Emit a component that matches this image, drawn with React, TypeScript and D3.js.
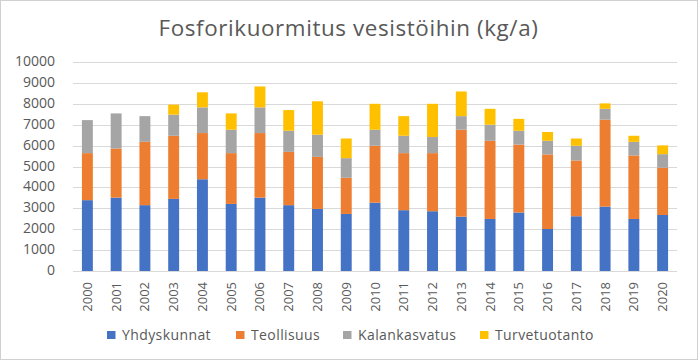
import React, { useEffect, useRef } from 'react';
import * as d3 from 'd3';

const years = ['2000', '2001', '2002', '2003', '2004', '2005', '2006', '2007', '2008', '2009', '2010',
  '2011', '2012', '2013', '2014', '2015', '2016', '2017', '2018', '2019', '2020'];

const yhdyskunnat = [3390, 3510, 3150, 3450, 4390, 3210, 3510, 3150, 2970, 2730, 3270, 2910, 2860, 2600, 2490, 2800, 2010, 2620, 3080, 2490, 2680];
const teollisuus = [2250, 2350, 3030, 3020, 2210, 2430, 3090, 2550, 2490, 1730, 2720, 2730, 2780, 4160, 3740, 3250, 3570, 2670, 4160, 3040, 2260];
const kalankasvatus = [1580, 1680, 1230, 1010, 1230, 1120, 1230, 1010, 1060, 940, 770, 830, 770, 650, 770, 660, 650, 700, 520, 650, 650];
const turvetuotanto = [0, 0, 0, 480, 720, 780, 1000, 990, 1600, 940, 1240, 940, 1590, 1180, 760, 570, 420, 350, 260, 290, 420];

const seriesNames = ['Yhdyskunnat', 'Teollisuus', 'Kalankasvatus', 'Turvetuotanto'];
const seriesColors = ['#4472C4', '#ED7D31', '#A5A5A5', '#FFC000'];
const yTicks = [0, 1000, 2000, 3000, 4000, 5000, 6000, 7000, 8000, 9000, 10000];

const App: React.FC = () => {
  const svgRef = useRef<SVGSVGElement>(null);

  useEffect(() => {
    if (!svgRef.current) return;
    const svg = d3.select(svgRef.current);
    svg.selectAll('*').remove();

    const width = 698;
    const height = 360;
    const font = '"Open Sans", "Liberation Sans", sans-serif';
    const textColor = '#595959';

    svg.append('rect')
      .attr('x', 0.5).attr('y', 0.5)
      .attr('width', width - 1).attr('height', height - 1)
      .attr('fill', '#fff').attr('stroke', '#d0d0d0');

    const left = 73, right = 677, top = 62, bottom = 271;

    const x = d3.scaleBand().domain(years).range([left, right]).paddingInner(0.62).paddingOuter(0.31);
    const y = d3.scaleLinear().domain([0, 10000]).range([bottom, top]);

    svg.append('g')
      .selectAll('line')
      .data(yTicks)
      .join('line')
      .attr('x1', left).attr('x2', right)
      .attr('y1', (d) => Math.round(y(d)) + 0.5).attr('y2', (d) => Math.round(y(d)) + 0.5)
      .attr('stroke', '#d9d9d9').attr('stroke-width', 1);

    svg.append('g')
      .selectAll('text')
      .data(yTicks)
      .join('text')
      .attr('x', 55).attr('y', (d) => y(d) + 4)
      .attr('text-anchor', 'end')
      .attr('font-family', font).attr('font-size', 14)
      .attr('fill', textColor)
      .text((d) => String(d));

    const table = years.map((yr, i) => ({
      year: yr,
      Yhdyskunnat: yhdyskunnat[i],
      Teollisuus: teollisuus[i],
      Kalankasvatus: kalankasvatus[i],
      Turvetuotanto: turvetuotanto[i],
    }));
    const stacked = d3.stack<any>().keys(seriesNames)(table);

    stacked.forEach((layer, si) => {
      svg.append('g')
        .selectAll('rect')
        .data(layer.filter((d) => d[1] - d[0] > 0))
        .join('rect')
        .attr('x', (d) => x(d.data.year) as number)
        .attr('width', x.bandwidth())
        .attr('y', (d) => y(d[1]))
        .attr('height', (d) => y(d[0]) - y(d[1]))
        .attr('fill', seriesColors[si]);
    });

    svg.append('line')
      .attr('x1', left).attr('x2', right)
      .attr('y1', bottom + 0.5).attr('y2', bottom + 0.5)
      .attr('stroke', '#d9d9d9');

    svg.append('g')
      .selectAll('text')
      .data(years)
      .join('text')
      .attr('transform', (d) => `translate(${(x(d) as number) + x.bandwidth() / 2 + 4.5},${bottom + 11}) rotate(-90)`)
      .attr('text-anchor', 'end')
      .attr('font-family', font).attr('font-size', 13)
      .attr('fill', textColor)
      .text((d) => d);

    svg.append('text')
      .attr('x', 348.5).attr('y', 36)
      .attr('text-anchor', 'middle')
      .attr('font-family', font).attr('font-size', 22.4)
      .attr('letter-spacing', 0.6)
      .attr('fill', textColor)
      .text('Fosforikuormitus vesistöihin (kg/a)');

    const legendX = [107, 236, 343, 480];
    const legend = svg.append('g');
    seriesNames.forEach((name, i) => {
      legend.append('rect')
        .attr('x', legendX[i]).attr('y', 331)
        .attr('width', 8.5).attr('height', 8)
        .attr('fill', seriesColors[i]);
      legend.append('text')
        .attr('x', legendX[i] + 15).attr('y', 339.5)
        .attr('font-family', font).attr('font-size', 14)
        .attr('letter-spacing', 0.4)
        .attr('fill', textColor)
        .text(name);
    });
  }, []);

  return (
    <svg ref={svgRef} width={698} height={360} style={{ position: 'absolute', left: 0, top: 0, display: 'block' }}></svg>
  );
};

export default App;
